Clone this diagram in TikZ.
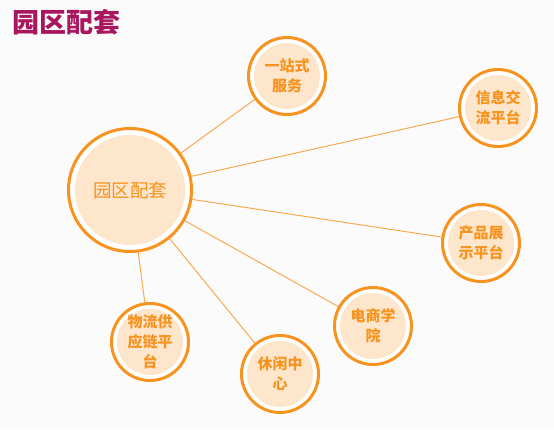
\documentclass[tikz,border=0pt]{standalone}
\usepackage{fontspec}
\setmainfont{Noto Sans CJK SC}
\usepackage{xcolor}
\definecolor{parkTitle}{HTML}{A8175E}
\definecolor{parkRing}{HTML}{F7931E}
\definecolor{parkFill}{HTML}{FDE6CC}
\definecolor{parkLine}{HTML}{F8AA50}
\definecolor{parkBack}{HTML}{FBFBFB}

\begin{document}
\begin{tikzpicture}[x=1pt,y=-1pt,
  hub/.style={circle, draw=parkRing, line width=3pt, fill=white, inner sep=0pt,
    minimum size=123pt, text=parkRing, font=\fontsize{18.5}{22}\selectfont,
    path picture={\fill[parkFill] (path picture bounding box.center) circle (55pt);}},
  leaf/.style={circle, draw=parkRing, line width=3pt, fill=white, inner sep=0pt,
    minimum size=77pt, text=parkRing, align=center,
    font=\fontsize{15}{20}\selectfont\bfseries,
    path picture={\fill[parkFill] (path picture bounding box.center) circle (33pt);}},
  spoke/.style={draw=parkLine, line width=1pt}]
  \fill[parkBack] (0,0) rectangle (554,429);
  \useasboundingbox (0,0) rectangle (554,429);
  \node[anchor=west, text=parkTitle, font=\fontsize{27}{30}\selectfont\bfseries] (title) at (9,22) {园区配套};

  \node[hub] (hub) at (130,190) {园区配套};
  \node[leaf] (service) at (287,76) {一站式\\服务};
  \node[leaf] (info) at (498,108) {信息交\\流平台};
  \node[leaf] (show) at (481,243) {产品展\\示平台};
  \node[leaf] (school) at (373,326) {电商学\\院};
  \node[leaf] (leisure) at (280,374) {休闲中\\心};
  \node[leaf] (logistics) at (150,342) {物流供\\应链平\\台};

  \foreach \n in {service,info,show,school,leisure,logistics}
    \draw[spoke] (hub) -- (\n);
\end{tikzpicture}
\end{document}
